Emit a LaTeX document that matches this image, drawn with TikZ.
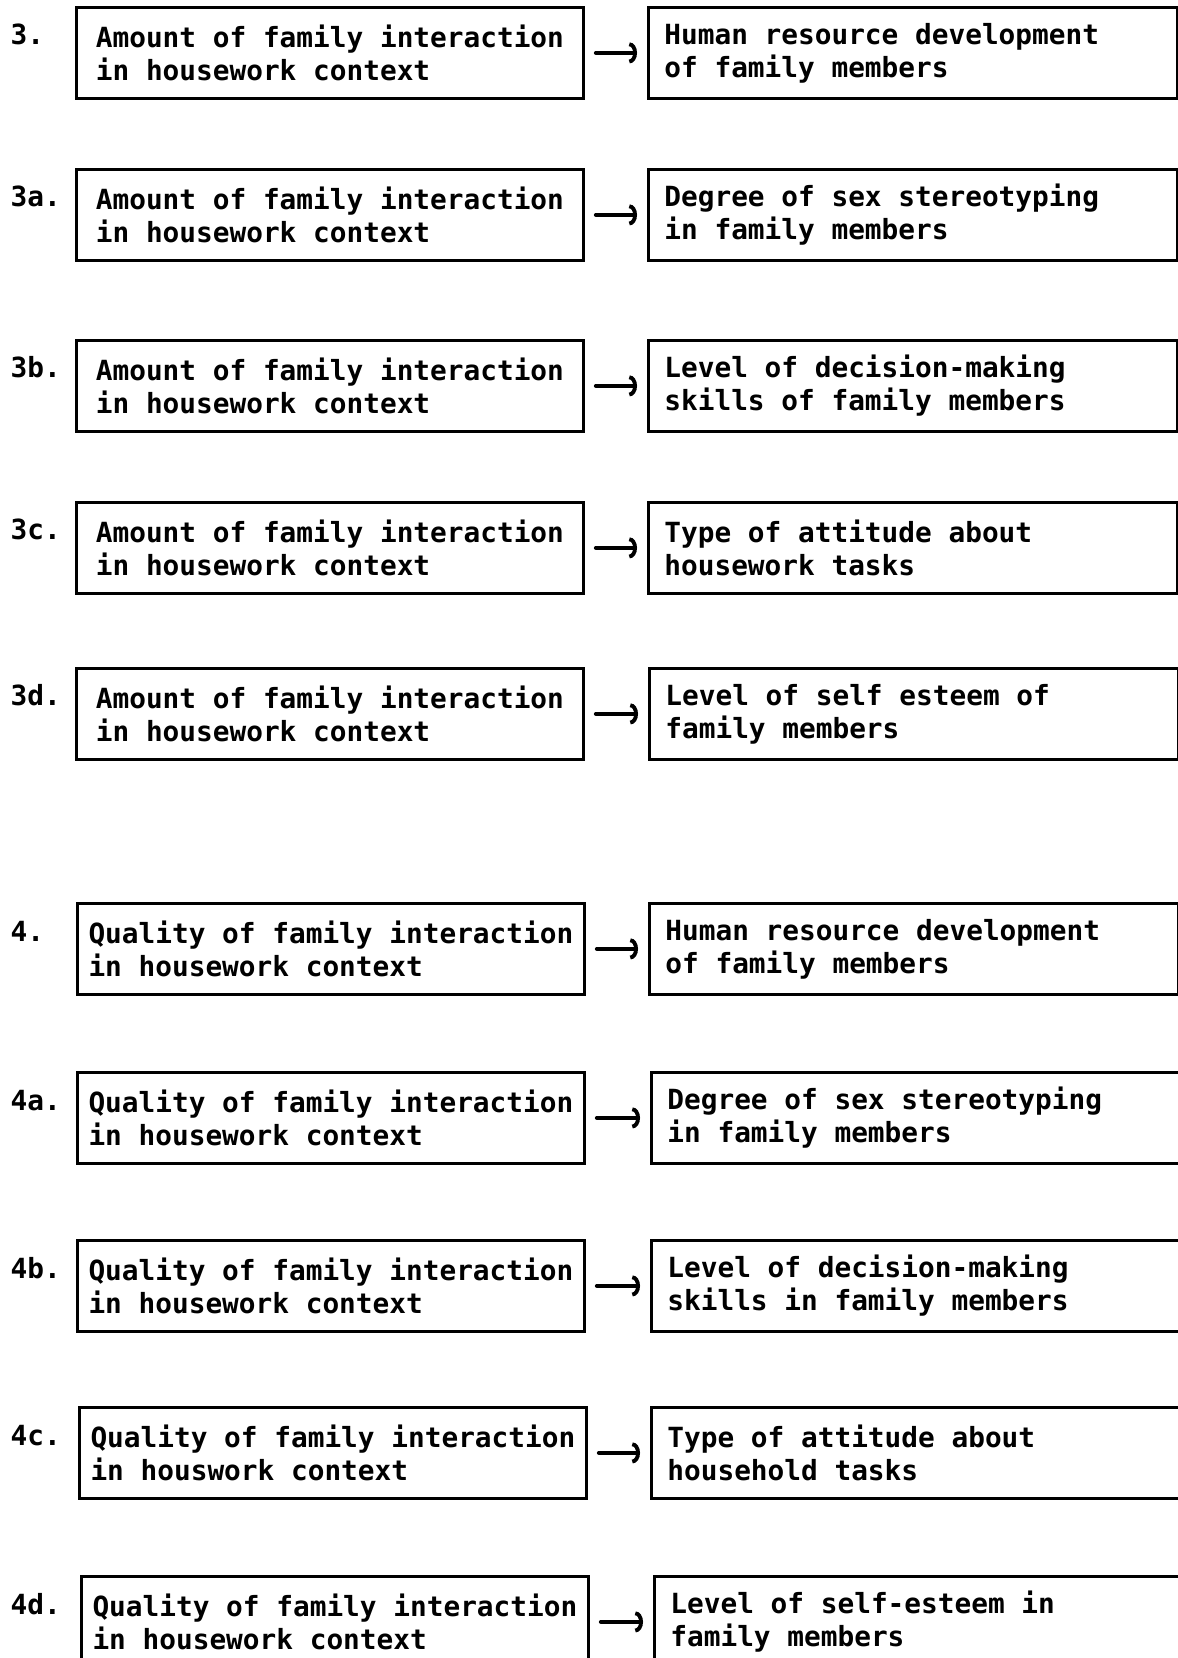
\documentclass[tikz,border=0pt]{standalone}
\usepackage{fontspec}
\setmonofont[WordSpace={1,0,0}]{DejaVu Sans Mono}
\usetikzlibrary{positioning,arrows.meta}
\tikzset{
  typed/.style={font={\ttfamily\bfseries\fontsize{7.9}{9.4}\selectfont}},
  cause/.style={typed, draw, line width=0.8pt, anchor=north west, align=left,
    minimum width=5.07cm, minimum height=0.91cm, inner sep=0pt},
  effect/.style={typed, draw, line width=0.8pt, anchor=north west, align=flush left,
    text width=4.97cm, minimum height=0.91cm, inner xsep=0.16cm, inner ysep=0pt},
  num/.style={typed, anchor=base west, inner sep=0pt},
  link/.style={line width=1.1pt, line cap=round, -{Arc Barb[length=2.2pt,width=6pt]},
    shorten <=0.11cm, shorten >=0.1cm},
}
\begin{document}
\begin{tikzpicture}
  \useasboundingbox (0,0) rectangle (11.77,-16.58);

  % amount of interaction
  \node[cause] (iv3) at (0.75,-0.06) {Amount of family interaction\\in housework context};
  \node[effect] (dv3) at (6.47,-0.06) {Human resource development\\of family members};
  \node[num] (n3) at (0.10,-0.45) {3.};
  \draw[link] (iv3) -- (dv3);

  \node[cause] (iv3a) at (0.75,-1.68) {Amount of family interaction\\in housework context};
  \node[effect] (dv3a) at (6.47,-1.68) {Degree of sex stereotyping\\in family members};
  \node[num] (n3a) at (0.10,-2.07) {3a.};
  \draw[link] (iv3a) -- (dv3a);

  \node[cause] (iv3b) at (0.75,-3.39) {Amount of family interaction\\in housework context};
  \node[effect] (dv3b) at (6.47,-3.39) {Level of decision-making\\skills of family members};
  \node[num] (n3b) at (0.10,-3.78) {3b.};
  \draw[link] (iv3b) -- (dv3b);

  \node[cause] (iv3c) at (0.75,-5.01) {Amount of family interaction\\in housework context};
  \node[effect] (dv3c) at (6.47,-5.01) {Type of attitude about\\housework tasks};
  \node[num] (n3c) at (0.10,-5.40) {3c.};
  \draw[link] (iv3c) -- (dv3c);

  \node[cause] (iv3d) at (0.75,-6.67) {Amount of family interaction\\in housework context};
  \node[effect] (dv3d) at (6.48,-6.67) {Level of self esteem of\\family members};
  \node[num] (n3d) at (0.10,-7.06) {3d.};
  \draw[link] (iv3d) -- (dv3d);

  % quality of interaction
  \node[cause] (iv4) at (0.76,-9.02) {Quality of family interaction\\in housework context};
  \node[effect] (dv4) at (6.48,-9.02) {Human resource development\\of family members};
  \node[num] (n4) at (0.10,-9.41) {4.};
  \draw[link] (iv4) -- (dv4);

  \node[cause] (iv4a) at (0.76,-10.71) {Quality of family interaction\\in housework context};
  \node[effect] (dv4a) at (6.50,-10.71) {Degree of sex stereotyping\\in family members};
  \node[num] (n4a) at (0.10,-11.10) {4a.};
  \draw[link] (iv4a) -- (dv4a);

  \node[cause] (iv4b) at (0.76,-12.39) {Quality of family interaction\\in housework context};
  \node[effect] (dv4b) at (6.50,-12.39) {Level of decision-making\\skills in family members};
  \node[num] (n4b) at (0.10,-12.78) {4b.};
  \draw[link] (iv4b) -- (dv4b);

  \node[cause] (iv4c) at (0.78,-14.06) {Quality of family interaction\\in houswork context};
  \node[effect] (dv4c) at (6.50,-14.06) {Type of attitude about\\household tasks};
  \node[num] (n4c) at (0.10,-14.45) {4c.};
  \draw[link] (iv4c) -- (dv4c);

  \node[cause] (iv4d) at (0.80,-15.75) {Quality of family interaction\\in housework context};
  \node[effect] (dv4d) at (6.53,-15.75) {Level of self-esteem in\\family members};
  \node[num] (n4d) at (0.10,-16.14) {4d.};
  \draw[link] (iv4d) -- (dv4d);
\end{tikzpicture}
\end{document}
